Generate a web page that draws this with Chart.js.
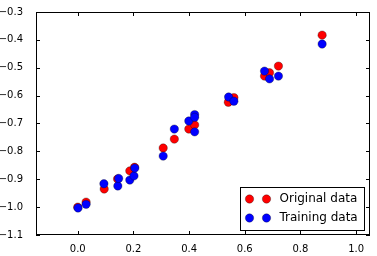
<!DOCTYPE html>
<html>
<head>
<meta charset="utf-8">
<script src="https://cdn.jsdelivr.net/npm/chart.js@4/dist/chart.umd.min.js"></script>
<style>
  html, body { margin: 0; padding: 0; background: #fff; }
  canvas { display: block; }
</style>
</head>
<body>
<canvas id="chart" width="377" height="256"></canvas>
<script>
/* --- Data --- */
const originalX = [0.000, 0.030, 0.095, 0.143, 0.187, 0.204, 0.307, 0.347, 0.399, 0.420, 0.541, 0.561, 0.671, 0.689, 0.721, 0.878];
const originalY = [-1.000, -0.982, -0.935, -0.899, -0.870, -0.857, -0.788, -0.756, -0.720, -0.705, -0.624, -0.607, -0.530, -0.518, -0.494, -0.383];

const trainingX = [0.001, 0.030, 0.094, 0.144, 0.147, 0.187, 0.202, 0.205, 0.307, 0.347, 0.399, 0.420, 0.420, 0.420, 0.542, 0.561, 0.671, 0.689, 0.721, 0.878];
const trainingY = [-1.003, -0.990, -0.916, -0.924, -0.897, -0.903, -0.888, -0.860, -0.817, -0.720, -0.691, -0.668, -0.678, -0.730, -0.605, -0.620, -0.512, -0.540, -0.530, -0.415];

const xTicks = [0.0, 0.2, 0.4, 0.6, 0.8, 1.0];
const yTicks = [-1.1, -1.0, -0.9, -0.8, -0.7, -0.6, -0.5, -0.4, -0.3];

const seriesNames = ['Original data', 'Training data'];
const seriesColors = ['#ff0000', '#0000ff'];

function toPoints(xs, ys) {
  return xs.map((x, i) => ({ x: x, y: ys[i] }));
}

function fmt(v) {
  return v.toFixed(1).replace('-', '\u2212');
}

const FONT = "'DejaVu Sans', sans-serif";
const MARK_R = 4.2;

/* --- Frame with inward ticks on all four sides (matplotlib classic) --- */
const framePlugin = {
  id: 'frame',
  afterDatasetsDraw(chart) {
    const { ctx, chartArea: a, scales } = chart;
    const len = 4;
    ctx.save();
    ctx.strokeStyle = '#000';
    ctx.lineWidth = 1;
    ctx.beginPath();
    xTicks.forEach(v => {
      const px = Math.round(scales.x.getPixelForValue(v)) + 0.5;
      ctx.moveTo(px, a.bottom); ctx.lineTo(px, a.bottom - len);
      ctx.moveTo(px, a.top); ctx.lineTo(px, a.top + len);
    });
    yTicks.forEach(v => {
      const py = Math.round(scales.y.getPixelForValue(v)) + 0.5;
      ctx.moveTo(a.left, py); ctx.lineTo(a.left + len, py);
      ctx.moveTo(a.right, py); ctx.lineTo(a.right - len, py);
    });
    ctx.stroke();
    ctx.strokeRect(Math.round(a.left) + 0.5, Math.round(a.top) + 0.5,
      Math.round(a.right - a.left) - 1, Math.round(a.bottom - a.top) - 1);
    ctx.restore();
  }
};

/* --- Legend box, bottom right, two markers per entry --- */
const legendPlugin = {
  id: 'boxLegend',
  afterDraw(chart) {
    const { ctx, chartArea: a } = chart;
    const w = 124, h = 43;
    const x0 = Math.round(a.right - 6 - w) + 0.5;
    const y0 = Math.round(a.bottom - 5 - h) + 0.5;
    ctx.save();
    ctx.fillStyle = '#fff';
    ctx.fillRect(x0, y0, w, h);
    ctx.strokeStyle = '#000';
    ctx.lineWidth = 1;
    ctx.strokeRect(x0, y0, w, h);
    ctx.font = '12px ' + FONT;
    ctx.textBaseline = 'middle';
    seriesNames.forEach((name, i) => {
      const cy = y0 + 11.5 + i * 19;
      [x0 + 9, x0 + 26].forEach(cx => {
        ctx.beginPath();
        ctx.arc(cx, cy, MARK_R, 0, Math.PI * 2);
        ctx.fillStyle = seriesColors[i];
        ctx.fill();
        ctx.lineWidth = 0.5;
        ctx.strokeStyle = 'rgba(0,0,0,0.6)';
        ctx.stroke();
      });
      ctx.fillStyle = '#000';
      ctx.fillText(name, x0 + 39, cy);
    });
    ctx.restore();
  }
};

const ctx = document.getElementById('chart');

new Chart(ctx, {
  type: 'scatter',
  data: {
    datasets: [
      {
        label: seriesNames[0],
        data: toPoints(originalX, originalY),
        backgroundColor: seriesColors[0],
        borderColor: 'rgba(0,0,0,0.6)',
        borderWidth: 0.5,
        pointRadius: MARK_R,
        order: 1,
      },
      {
        label: seriesNames[1],
        data: toPoints(trainingX, trainingY),
        backgroundColor: seriesColors[1],
        borderColor: 'rgba(0,0,0,0.6)',
        borderWidth: 0.5,
        pointRadius: MARK_R,
        order: 0,
      }
    ]
  },
  options: {
    responsive: false,
    animation: false,
    layout: { padding: { left: 0, right: 7, top: 12, bottom: 0 } },
    scales: {
      x: {
        type: 'linear',
        min: -0.15,
        max: 1.05,
        afterBuildTicks: s => { s.ticks = xTicks.map(v => ({ value: v })); },
        afterFit: s => { s.height = 21; },
        grid: { display: false },
        border: { display: false },
        ticks: {
          color: '#000',
          padding: 0,
          maxRotation: 0,
          font: { family: FONT, size: 10 },
          callback: v => fmt(v),
        }
      },
      y: {
        type: 'linear',
        min: -1.1,
        max: -0.3,
        afterBuildTicks: s => { s.ticks = yTicks.map(v => ({ value: v })); },
        afterFit: s => { s.width = 36; },
        grid: { display: false },
        border: { display: false },
        ticks: {
          color: '#000',
          padding: 5,
          font: { family: FONT, size: 10 },
          callback: v => fmt(v),
        }
      }
    },
    plugins: {
      legend: { display: false },
      tooltip: { enabled: false }
    }
  },
  plugins: [framePlugin, legendPlugin]
});
</script>
</body>
</html>
